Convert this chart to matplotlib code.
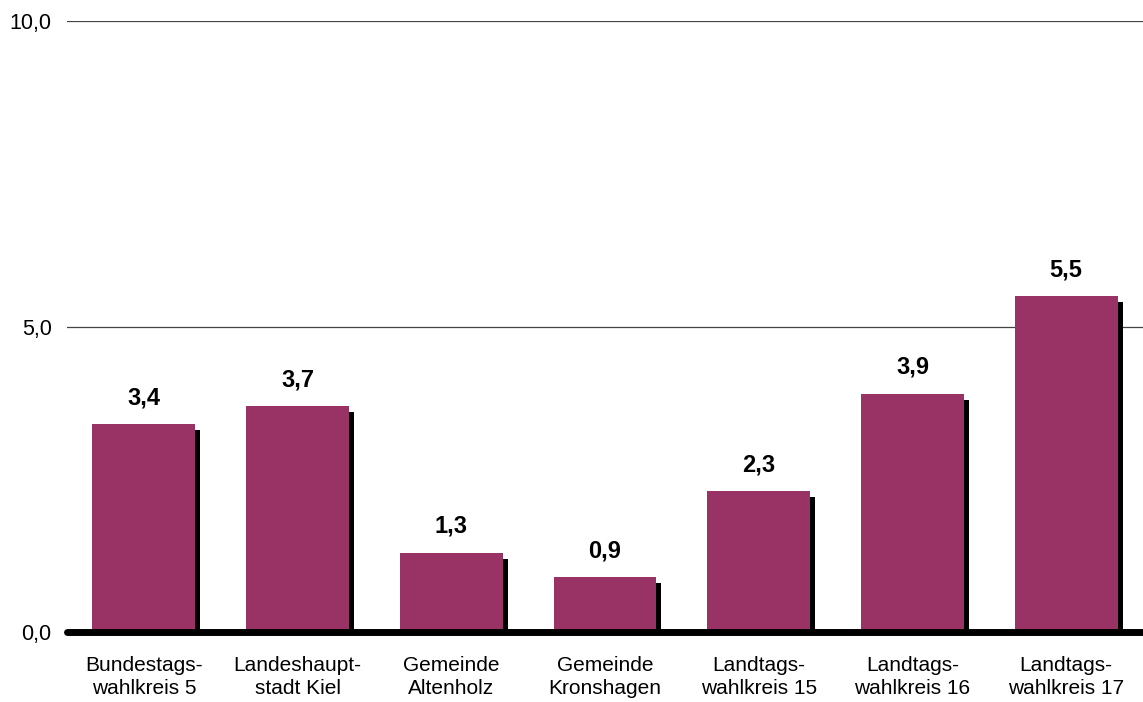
import matplotlib.pyplot as plt
import matplotlib.patheffects as pe

plt.rcParams['font.family'] = ['Liberation Sans', 'DejaVu Sans']

categories = ['Bundestags-\nwahlkreis 5', 'Landeshaupt-\nstadt Kiel', 'Gemeinde\nAltenholz',
              'Gemeinde\nKronshagen', 'Landtags-\nwahlkreis 15', 'Landtags-\nwahlkreis 16',
              'Landtags-\nwahlkreis 17']
values = [3.4, 3.7, 1.3, 0.9, 2.3, 3.9, 5.5]
yticks = [0, 5, 10]
ytick_labels = ['0,0', '5,0', '10,0']

fig = plt.figure(figsize=(11.43, 7.02), dpi=100)
ax = fig.add_axes([67 / 1143, 70 / 702, 1 - 67 / 1143, (632 - 21) / 702])

x = range(len(values))
bars = ax.bar(x, values, width=0.67, color='#993366', zorder=2)
for b in bars:
    b.set_path_effects([pe.SimplePatchShadow(offset=(3.6, -4.3), shadow_rgbFace='black', alpha=1.0),
                        pe.Normal()])

for xi, v in zip(x, values):
    ax.annotate(f'{v:.1f}'.replace('.', ','), (xi, v), xytext=(0, 19), textcoords='offset points',
                ha='center', va='center', fontsize=17, fontweight='bold')

# gridlines and heavy baseline
for yt in yticks[1:]:
    ax.axhline(yt, color='#444444', lw=0.9, zorder=1)
ax.axhline(0, color='black', lw=5, solid_capstyle='round', zorder=3, clip_on=False)

ax.set_xlim(-0.5, len(values) - 0.5)
ax.set_ylim(0, 10)
ax.set_yticks(yticks)
ax.set_yticklabels(ytick_labels, fontsize=15.5)
ax.set_xticks(list(x))
ax.set_xticklabels(categories, fontsize=15, linespacing=1.3)
ax.tick_params(axis='y', length=0, pad=11)
ax.tick_params(axis='x', length=0, pad=17)
for s in ax.spines.values():
    s.set_visible(False)

fig.savefig('out.png', dpi=100)
